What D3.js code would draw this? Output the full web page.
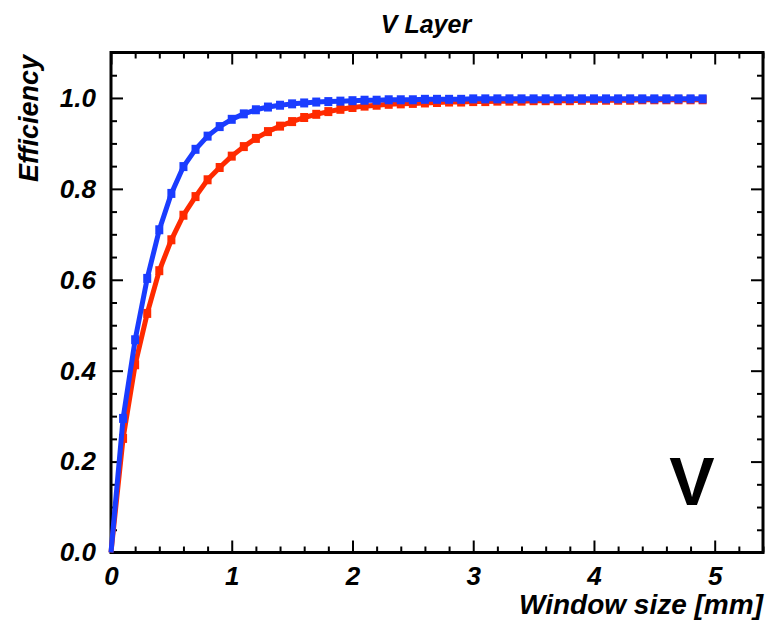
<!DOCTYPE html>
<html>
<head>
<meta charset="utf-8">
<script src="https://cdn.jsdelivr.net/npm/d3@7"></script>
<style>
  body { margin: 0; background: #fff; }
  text { font-family: "Liberation Sans", Arial, sans-serif; }
</style>
</head>
<body>
<div id="chart"></div>
<script>
// window sizes [mm]
const windowSize = [
  0.0, 0.1, 0.2, 0.3, 0.4, 0.5, 0.6, 0.7, 0.8, 0.9,
  1.0, 1.1, 1.2, 1.3, 1.4, 1.5, 1.6, 1.7, 1.8, 1.9,
  2.0, 2.1, 2.2, 2.3, 2.4, 2.5, 2.6, 2.7, 2.8, 2.9,
  3.0, 3.1, 3.2, 3.3, 3.4, 3.5, 3.6, 3.7, 3.8, 3.9,
  4.0, 4.1, 4.2, 4.3, 4.4, 4.5, 4.6, 4.7, 4.8, 4.9
];
const effRed = [
  0.000, 0.251, 0.413, 0.526, 0.620, 0.688, 0.742, 0.783, 0.820, 0.847,
  0.872, 0.893, 0.911, 0.926, 0.938, 0.948, 0.957, 0.964, 0.970, 0.975,
  0.979, 0.982, 0.984, 0.986, 0.987, 0.988, 0.989, 0.990, 0.991, 0.991,
  0.992, 0.992, 0.993, 0.993, 0.993, 0.994, 0.994, 0.994, 0.994, 0.995,
  0.995, 0.995, 0.995, 0.995, 0.996, 0.996, 0.996, 0.996, 0.996, 0.996
];
const effBlue = [
  0.000, 0.295, 0.468, 0.603, 0.710, 0.790, 0.849, 0.887, 0.916, 0.937,
  0.953, 0.965, 0.974, 0.980, 0.984, 0.987, 0.989, 0.991, 0.992, 0.993,
  0.994, 0.995, 0.995, 0.996, 0.996, 0.996, 0.997, 0.997, 0.997, 0.997,
  0.998, 0.998, 0.998, 0.998, 0.998, 0.998, 0.998, 0.998, 0.998, 0.998,
  0.998, 0.998, 0.998, 0.998, 0.998, 0.998, 0.998, 0.998, 0.998, 0.998
];
const xMajor = [0, 1, 2, 3, 4, 5];
const xMinor = [0.2, 0.4, 0.6, 0.8, 1.2, 1.4, 1.6, 1.8, 2.2, 2.4, 2.6, 2.8,
                3.2, 3.4, 3.6, 3.8, 4.2, 4.4, 4.6, 4.8, 5.2, 5.4];
const yMajor = [0, 0.2, 0.4, 0.6, 0.8, 1.0];
const yMinor = [0.05, 0.1, 0.15, 0.25, 0.3, 0.35, 0.45, 0.5, 0.55, 0.65, 0.7, 0.75,
                0.85, 0.9, 0.95, 1.05];

const W = 765, H = 622;
const frame = {left: 111, right: 763, top: 52.5, bottom: 552.5};
const colRed = "#ff2a00", colBlue = "#1a3cff";

const svg = d3.select("#chart").append("svg")
  .attr("width", W).attr("height", H);

const x = d3.scaleLinear().domain([0, 5.4]).range([frame.left, frame.right]);
const y = d3.scaleLinear().domain([0, 1.1]).range([frame.bottom, frame.top]);

const font = g => g.selectAll("text")
  .attr("font-size", 26).attr("font-weight", "bold").attr("font-style", "italic").attr("fill", "#000");
const clean = g => { g.select(".domain").remove(); g.selectAll("line").attr("stroke", "#000").attr("stroke-width", 2); };

// bottom
svg.append("g").attr("transform", `translate(0,${frame.bottom})`)
  .call(d3.axisBottom(x).tickValues(xMinor).tickSize(-6).tickFormat(""))
  .call(clean);
svg.append("g").attr("transform", `translate(0,${frame.bottom})`)
  .call(d3.axisBottom(x).tickValues(xMajor).tickSize(-12).tickPadding(14).tickFormat(d3.format("d")))
  .call(clean).call(font);
// top
svg.append("g").attr("transform", `translate(0,${frame.top})`)
  .call(d3.axisTop(x).tickValues(xMinor).tickSize(-6).tickFormat(""))
  .call(clean);
svg.append("g").attr("transform", `translate(0,${frame.top})`)
  .call(d3.axisTop(x).tickValues(xMajor).tickSize(-12).tickFormat(""))
  .call(clean);
// left
svg.append("g").attr("transform", `translate(${frame.left},0)`)
  .call(d3.axisLeft(y).tickValues(yMinor).tickSize(-6).tickFormat(""))
  .call(clean);
svg.append("g").attr("transform", `translate(${frame.left},0)`)
  .call(d3.axisLeft(y).tickValues(yMajor).tickSize(-12).tickPadding(15).tickFormat(d3.format(".1f")))
  .call(clean).call(font);
// right
svg.append("g").attr("transform", `translate(${frame.right},0)`)
  .call(d3.axisRight(y).tickValues(yMinor).tickSize(-6).tickFormat(""))
  .call(clean);
svg.append("g").attr("transform", `translate(${frame.right},0)`)
  .call(d3.axisRight(y).tickValues(yMajor).tickSize(-12).tickFormat(""))
  .call(clean);

// frame
svg.append("rect")
  .attr("x", frame.left).attr("y", frame.top)
  .attr("width", frame.right - frame.left).attr("height", frame.bottom - frame.top)
  .attr("fill", "none").attr("stroke", "#000").attr("stroke-width", 3);

// curves
function drawSeries(vals, color) {
  const pts = windowSize.map((w, i) => [w, vals[i]]);
  svg.append("path").datum(pts)
    .attr("fill", "none").attr("stroke", color).attr("stroke-width", 5)
    .attr("stroke-linejoin", "round")
    .attr("d", d3.line().x(d => x(d[0])).y(d => y(d[1])));
  svg.append("g").selectAll("rect").data(pts.slice(1)).join("rect")
    .attr("x", d => x(d[0]) - 4).attr("y", d => y(d[1]) - 4.5)
    .attr("width", 8).attr("height", 9).attr("fill", color);
}
drawSeries(effRed, colRed);
drawSeries(effBlue, colBlue);

// texts
svg.append("text").attr("x", 426).attr("y", 33).attr("text-anchor", "middle")
  .attr("font-size", 25).attr("font-weight", "bold").attr("font-style", "italic")
  .text("V Layer");
svg.append("text").attr("x", 763).attr("y", 614).attr("text-anchor", "end")
  .attr("font-size", 28).attr("font-weight", "bold").attr("font-style", "italic")
  .text("Window size [mm]");
svg.append("text").attr("transform", "translate(38,55) rotate(-90)")
  .attr("text-anchor", "end")
  .attr("font-size", 27).attr("font-weight", "bold").attr("font-style", "italic")
  .text("Efficiency");
svg.append("text").attr("x", 692).attr("y", 505).attr("text-anchor", "middle")
  .attr("font-size", 68).attr("font-weight", "bold")
  .text("V");
</script>
</body>
</html>
